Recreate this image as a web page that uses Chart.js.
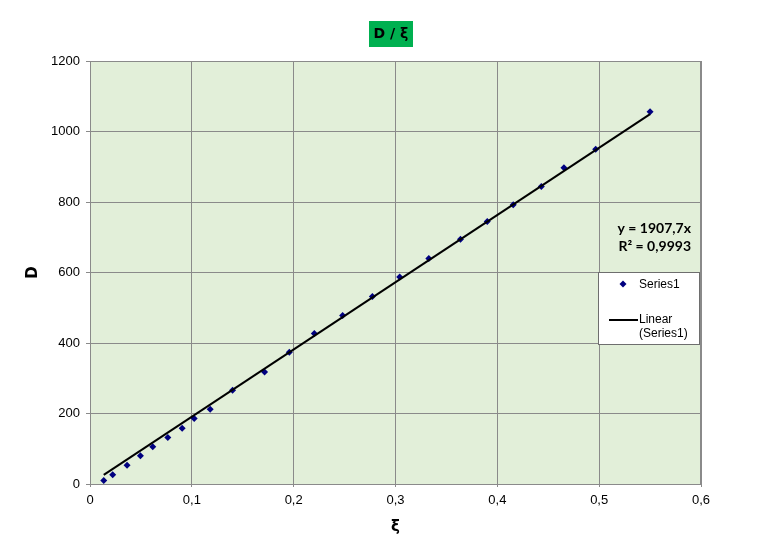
<!DOCTYPE html>
<html>
<head>
<meta charset="utf-8">
<script src="https://cdn.jsdelivr.net/npm/chart.js@4/dist/chart.umd.min.js"></script>
<style>
  html, body { margin: 0; padding: 0; background: #fff; }
  canvas { display: block; }
</style>
</head>
<body>
<canvas id="c" width="761" height="541"></canvas>
<script>
// measured points (ξ, D)
const xi = [0.0135, 0.0223, 0.0364, 0.0495, 0.0616, 0.0764, 0.0905, 0.1023, 0.118, 0.140, 0.1714,
  0.1957, 0.2203, 0.2481, 0.2773, 0.3041, 0.3327, 0.3638, 0.3901, 0.4156, 0.4432, 0.4654, 0.4966, 0.550]
const dVals = [10, 26, 53, 80, 106, 132, 158, 186, 212, 266, 318,
  374, 427, 478, 532, 587, 640, 694, 745, 792, 844, 897, 950, 1056]

// linear trendline y = 1907,7x, drawn between first and last ξ
const trendX = [0.0135, 0.550]
const trendY = [25.8, 1049.2]
const equationLines = ["y = 1907,7x", "R² = 0,9993"]

const xTicks = [0, 0.1, 0.2, 0.3, 0.4, 0.5, 0.6]
const yTicks = [0, 200, 400, 600, 800, 1000, 1200]

const comma = v => String(Math.round(v * 10) / 10).replace(".", ",")

const decor = {
  id: "decor",
  beforeDraw(chart) {
    const { ctx, chartArea: a } = chart
    ctx.save()
    ctx.fillStyle = "#e2efd9"
    ctx.fillRect(a.left, a.top, a.right - a.left, a.bottom - a.top)
    ctx.restore()
  },
  afterDraw(chart) {
    const { ctx, chartArea: a } = chart
    ctx.save()
    // plot frame
    ctx.strokeStyle = "#8a8a8a"
    ctx.lineWidth = 1
    ctx.strokeRect(a.left + 0.5, a.top + 0.5, a.right - a.left - 1, a.bottom - a.top)

    // title with green badge
    ctx.fillStyle = "#00b050"
    ctx.fillRect(369, 21, 44, 26)
    ctx.fillStyle = "#000"
    ctx.font = "bold 14px 'DejaVu Sans'"
    ctx.textAlign = "center"
    ctx.textBaseline = "middle"
    ctx.fillText("D / ξ", 391, 34)

    // trendline equation
    ctx.font = "bold 14px Lato"
    ctx.textAlign = "right"
    ctx.fillText(equationLines[0], 691, 228)
    ctx.fillText(equationLines[1], 691, 246)

    // legend box
    ctx.fillStyle = "#fff"
    ctx.fillRect(598, 272, 101, 72)
    ctx.strokeStyle = "#6e6e6e"
    ctx.strokeRect(598.5, 272.5, 101, 72)
    ctx.fillStyle = "#000080"
    ctx.beginPath()
    ctx.moveTo(623, 280.5); ctx.lineTo(626.5, 284); ctx.lineTo(623, 287.5); ctx.lineTo(619.5, 284)
    ctx.closePath(); ctx.fill()
    ctx.strokeStyle = "#000"
    ctx.lineWidth = 2
    ctx.beginPath(); ctx.moveTo(609, 320); ctx.lineTo(638, 320); ctx.stroke()
    ctx.fillStyle = "#000"
    ctx.font = "12px 'Liberation Sans'"
    ctx.textAlign = "left"
    ctx.fillText("Series1", 639, 285)
    ctx.fillText("Linear", 639, 320)
    ctx.fillText("(Series1)", 639, 334)
    ctx.restore()
  }
}

new Chart(document.getElementById("c"), {
  type: "scatter",
  data: {
    datasets: [
      {
        label: "Series1",
        data: xi.map((x, i) => ({ x, y: dVals[i] })),
        pointStyle: "rectRot",
        pointRadius: 3.5,
        pointBackgroundColor: "#000080",
        pointBorderColor: "#000080",
        pointBorderWidth: 0,
        order: 2
      },
      {
        label: "Linear (Series1)",
        type: "line",
        data: trendX.map((x, i) => ({ x, y: trendY[i] })),
        borderColor: "#000",
        borderWidth: 2,
        pointRadius: 0,
        fill: false,
        order: 1
      }
    ]
  },
  options: {
    responsive: false,
    animation: false,
    layout: { padding: { left: 20, right: 60, top: 61, bottom: 5 } },
    plugins: { legend: { display: false }, tooltip: { enabled: false }, title: { display: false } },
    scales: {
      x: {
        type: "linear",
        min: 0, max: 0.6,
        afterBuildTicks: s => { s.ticks = xTicks.map(value => ({ value })) },
        afterFit: s => { s.height = 52 },
        grid: { color: "#8a8a8a", tickLength: 3, tickColor: "#8a8a8a" },
        border: { color: "#8a8a8a" },
        ticks: {
          color: "#000", padding: 6, maxRotation: 0,
          font: { family: "'Liberation Sans'", size: 13 },
          callback: v => comma(v)
        },
        title: {
          display: true, text: "ξ", color: "#000",
          font: { family: "'DejaVu Sans'", size: 15, weight: "bold" },
          padding: { top: 0, bottom: 0 }
        }
      },
      y: {
        min: 0, max: 1200,
        afterBuildTicks: s => { s.ticks = yTicks.map(value => ({ value })) },
        afterFit: s => { s.width = 70 },
        grid: { color: "#8a8a8a", tickLength: 4, tickColor: "#8a8a8a" },
        border: { color: "#8a8a8a" },
        ticks: {
          color: "#000", padding: 6,
          font: { family: "'Liberation Sans'", size: 13 },
          callback: v => String(v)
        },
        title: {
          display: true, text: "D", color: "#000",
          font: { family: "'DejaVu Sans'", size: 15, weight: "bold" },
          padding: { top: 4, bottom: 0 }
        }
      }
    }
  },
  plugins: [decor]
})
</script>
</body>
</html>
